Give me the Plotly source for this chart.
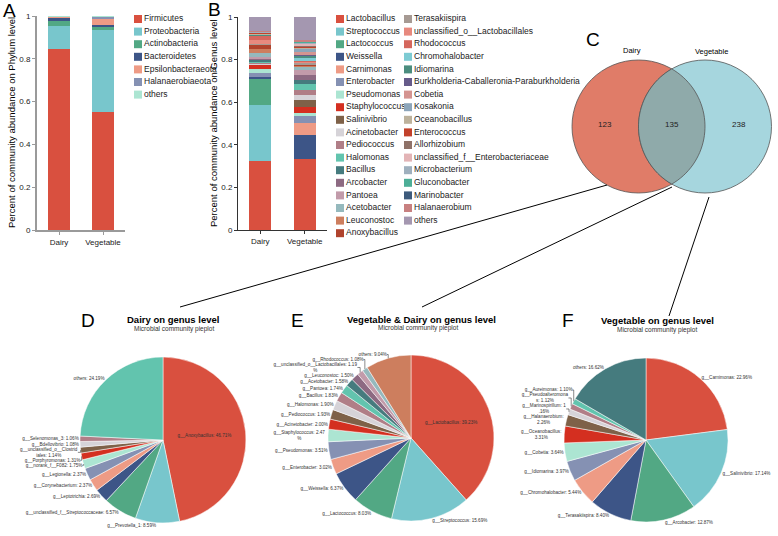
import numpy as np
import plotly.graph_objects as go

W, H = 778, 536
FONT = "Liberation Sans, Arial, sans-serif"

# ---- data -------------------------------------------------------------
samples = ["Dairy", "Vegetable"]

phyla = ["Firmicutes", "Proteobacteria", "Actinobacteria", "Bacteroidetes",
         "Epsilonbacteraeota", "Halanaerobiaeota", "others"]
phylum_dairy = [0.845, 0.109, 0.022, 0.019, 0.003, 0.0, 0.002]
phylum_veg = [0.553, 0.382, 0.015, 0.010, 0.030, 0.007, 0.003]

genera = ["Lactobacillus", "Streptococcus", "Lactococcus", "Weissella", "Carnimonas",
          "Enterobacter", "Pseudomonas", "Staphylococcus", "Salinivibrio", "Acinetobacter",
          "Pediococcus", "Halomonas", "Bacillus", "Arcobacter", "Pantoea", "Acetobacter",
          "Leuconostoc", "Anoxybacillus", "Terasakiispira", "unclassified_o__Lactobacillales",
          "Rhodococcus", "Chromohalobacter", "Idiomarina",
          "Burkholderia-Caballeronia-Paraburkholderia", "Cobetia", "Kosakonia",
          "Oceanobacillus", "Enterococcus", "Allorhizobium",
          "unclassified_f__Enterobacteriaceae", "Microbacterium", "Gluconobacter",
          "Marinobacter", "Halanaerobium", "others"]
genus_dairy = [0.325, 0.261, 0.125, 0.005, 0.0, 0.019, 0.020, 0.020, 0.0, 0.008,
               0.003, 0.003, 0.012, 0.004, 0.006, 0.020, 0.019, 0.023, 0.002, 0.019,
               0.019, 0.002, 0.001, 0.001, 0.002, 0.001, 0.001, 0.005, 0.001, 0.002,
               0.001, 0.001, 0.001, 0.001, 0.069]
genus_veg = [0.332, 0.0, 0.0, 0.114, 0.055, 0.034, 0.013, 0.028, 0.034, 0.023,
             0.023, 0.031, 0.016, 0.027, 0.023, 0.015, 0.005, 0.003, 0.010, 0.003,
             0.003, 0.016, 0.010, 0.005, 0.015, 0.012, 0.008, 0.003, 0.005, 0.008,
             0.004, 0.006, 0.003, 0.003, 0.110]

palette = ["#D9503F", "#78C6CC", "#52A884", "#3D5587", "#EE9B85", "#8591B3",
           "#ACE5D2", "#D42F20", "#7E6148", "#D6D3D8", "#B07E87", "#62C4AE",
           "#457B7E", "#8D6A82", "#C29BAA", "#95B9BD", "#CD7E5E", "#B0432D",
           "#A69A93", "#E7897E", "#D5675D", "#7DCBD3", "#4B8D7E", "#665B8A",
           "#D49490", "#8CA5BA", "#BDB29C", "#C2412B", "#8F7268", "#E3B4B6",
           "#9FB0BE", "#4DAE97", "#3D5A7C", "#C88080", "#A497B0"]

y_tickvals = [0, 0.2, 0.4, 0.6, 0.8, 1]
y_ticktext = ["0", "0.2", "0.4", "0.6", "0.8", "1"]

venn_names = ["Dairy", "Vegetable"]
venn_counts = [123, 135, 238]  # Dairy only, shared, Vegetable only

dairy_pie_labels = ["g__Anoxybacillus", "g__Prevotella_1", "g__unclassified_f__Streptococcaceae",
                    "g__Leptotrichia", "g__Corynebacterium", "g__Legionella", "g__norank_f__F082",
                    "g__Porphyromonas", "g__unclassified_o__Clostridiales", "g__Bdellovibrio",
                    "g__Selenomonas_3", "others"]
dairy_pie_values = [46.71, 8.59, 6.57, 2.69, 2.37, 2.37, 1.75, 1.31, 1.14, 1.08, 1.06, 24.19]

both_pie_labels = ["g__Lactobacillus", "g__Streptococcus", "g__Lactococcus", "g__Weissella",
                   "g__Enterobacter", "g__Pseudomonas", "g__Staphylococcus", "g__Acinetobacter",
                   "g__Pediococcus", "g__Halomonas", "g__Bacillus", "g__Pantoea", "g__Acetobacter",
                   "g__Leuconostoc", "g__unclassified_o__Lactobacillales", "g__Rhodococcus", "others"]
both_pie_values = [39.23, 15.69, 8.03, 6.37, 3.02, 3.51, 2.47, 2.00, 1.93, 1.90, 1.83, 1.74,
                   1.58, 1.50, 1.19, 1.08, 9.04]

veg_pie_labels = ["g__Carnimonas", "g__Salinivibrio", "g__Arcobacter", "g__Terasakiispira",
                  "g__Chromohalobacter", "g__Idiomarina", "g__Cobetia", "g__Oceanobacillus",
                  "g__Halanaerobium", "g__Marinospirillum", "g__Pseudoalteromonas",
                  "g__Aureimonas", "others"]
veg_pie_values = [22.96, 17.14, 12.87, 8.40, 5.44, 3.97, 3.64, 3.31, 2.26, 1.16, 1.12, 1.10, 16.62]

# where the original figure wraps long slice labels (character index)
label_wraps = {
    "g__unclassified_o__Clostridiales": 27,
    "g__unclassified_o__Lactobacillales": 40,
    "g__Staphylococcus": 23,
    "g__Pseudoalteromonas": 19,
    "g__Marinospirillum": 21,
    "g__Halanaerobium": 17,
    "g__Oceanobacillus": 18,
}

# ---- figure -------------------------------------------------------------
fig = go.Figure()


def px_x(a, b):
    return [a / W, b / W]


def px_y(top, bottom):
    return [1 - bottom / H, 1 - top / H]


# A: phylum stacked bars
for i, name in enumerate(phyla):
    fig.add_trace(go.Bar(x=samples, y=[phylum_dairy[i], phylum_veg[i]], name=name,
                         marker=dict(color=palette[i], line=dict(width=0)),
                         xaxis="x", yaxis="y", showlegend=False, hoverinfo="skip"))

# B: genus stacked bars
for i, name in enumerate(genera):
    fig.add_trace(go.Bar(x=samples, y=[genus_dairy[i], genus_veg[i]], name=name,
                         marker=dict(color=palette[i], line=dict(width=0)),
                         xaxis="x2", yaxis="y2", showlegend=False, hoverinfo="skip"))

# legends drawn on a pixel canvas axis
row0, row_step = 19, 12.6
fig.add_trace(go.Scatter(
    x=[138] * len(phyla), y=row0 + row_step * np.arange(len(phyla)),
    mode="markers+text", text=phyla, textposition="middle right",
    marker=dict(symbol="square", size=8, color=palette[:len(phyla)]),
    textfont=dict(size=8.5, color="#222", family=FONT),
    xaxis="x3", yaxis="y3", showlegend=False, hoverinfo="skip"))

n_col1 = 18
for start, stop, xm in [(0, n_col1, 340), (n_col1, len(genera), 408)]:
    names = genera[start:stop]
    fig.add_trace(go.Scatter(
        x=[xm] * len(names), y=row0 + row_step * np.arange(len(names)),
        mode="markers+text", text=names, textposition="middle right",
        marker=dict(symbol="square", size=8, color=palette[start:stop]),
        textfont=dict(size=8.5, color="#222", family=FONT),
        xaxis="x3", yaxis="y3", showlegend=False, hoverinfo="skip"))


def slice_text(label, value):
    s = f"{label}: {value:.2f}%"
    k = label_wraps.get(label)
    if k is not None and k < len(s):
        s = s[:k] + "<br>" + s[k:].lstrip()
    return s


# pies
pie_specs = [
    (dairy_pie_labels, dairy_pie_values, (163, 440), 83, True),
    (both_pie_labels, both_pie_values, (411, 438), 83, True),
    (veg_pie_labels, veg_pie_values, (646, 440), 82, False),
]
for labels, values, (cx, cy), r, first_inside in pie_specs:
    n = len(labels)
    texts = [slice_text(l, v) for l, v in zip(labels, values)]
    positions = ["outside"] * n
    if first_inside:
        positions[0] = "inside"
    fig.add_trace(go.Pie(
        labels=labels, values=values, text=texts, textinfo="text",
        textposition=positions, insidetextorientation="horizontal",
        sort=False, direction="clockwise", rotation=0, automargin=False,
        marker=dict(colors=palette[:n], line=dict(color="white", width=0.5)),
        textfont=dict(size=4.6, color="#333", family=FONT),
        domain=dict(x=px_x(cx - r, cx + r), y=px_y(cy - r, cy + r)),
        showlegend=False, hoverinfo="skip"))

# ---- venn + connectors ---------------------------------------------------
r_v = 66.5
c_dairy = (638.5, 126.5)
c_veg = (705.0, 126.5)
shapes = [
    dict(type="circle", xref="x3", yref="y3", x0=c_dairy[0] - r_v, x1=c_dairy[0] + r_v,
         y0=c_dairy[1] - r_v, y1=c_dairy[1] + r_v, fillcolor="#E07C68",
         line=dict(color="#555", width=0.8), layer="below"),
    dict(type="circle", xref="x3", yref="y3", x0=c_veg[0] - r_v, x1=c_veg[0] + r_v,
         y0=c_veg[1] - r_v, y1=c_veg[1] + r_v, fillcolor="#A6D6DE",
         line=dict(color="#555", width=0.8), layer="below"),
]
# lens of the overlap
d = c_veg[0] - c_dairy[0]
half = np.arccos(d / 2 / r_v)
t1 = np.linspace(-half, half, 40)
arc1 = [(c_dairy[0] + r_v * np.cos(t), c_dairy[1] + r_v * np.sin(t)) for t in t1]
t2 = np.linspace(np.pi - half, np.pi + half, 40)
arc2 = [(c_veg[0] + r_v * np.cos(t), c_veg[1] + r_v * np.sin(t)) for t in t2]
pts = arc1 + arc2
path = "M " + " L ".join(f"{x:.2f},{y:.2f}" for x, y in pts) + " Z"
shapes.append(dict(type="path", xref="x3", yref="y3", path=path, fillcolor="#8FAAAA",
                   line=dict(color="#555", width=0.8), layer="below"))

for x0, y0, x1, y1 in [(607, 185, 180, 307), (672, 187, 422, 307), (709, 197, 669, 316)]:
    shapes.append(dict(type="line", xref="x3", yref="y3", x0=x0, y0=y0, x1=x1, y1=y1,
                       line=dict(color="black", width=1)))

annotations = []


def txt(x, y, s, size, bold=False, color="black"):
    annotations.append(dict(x=x, y=y, xref="x3", yref="y3", text=f"<b>{s}</b>" if bold else s,
                            showarrow=False, xanchor="center", yanchor="middle",
                            font=dict(size=size, color=color, family=FONT)))


for letter, (lx, ly) in zip("ABCDEF", [(9, 10), (214, 9), (593, 39), (88, 320), (297, 320), (568, 320)]):
    txt(lx, ly, letter, 19)

txt(632, 50, venn_names[0], 7.5)
txt(711, 51, venn_names[1], 7.5)
for (vx, vy), cnt in zip([(605, 124), (672, 124), (739, 124)], venn_counts):
    txt(vx, vy, str(cnt), 8, color="#222")

txt(173, 319.5, "Dairy on genus level", 9.5, bold=True)
txt(174, 329, "Microbial community pieplot", 6.5, color="#333")
txt(421.5, 319, "Vegetable & Dairy on genus level", 9.5, bold=True)
txt(418, 328, "Microbial community pieplot", 6.5, color="#333")
txt(657.5, 320.5, "Vegetable on genus level", 9.5, bold=True)
txt(657, 330, "Microbial community pieplot", 6.5, color="#333")

# axis titles
annotations.append(dict(x=11, y=123, xref="x3", yref="y3", textangle=-90, showarrow=False,
                        text="Percent of community abundance on Phylum level",
                        font=dict(size=9.5, color="black", family=FONT)))
annotations.append(dict(x=213, y=123, xref="x3", yref="y3", textangle=-90, showarrow=False,
                        text="Percent of community abundance on Genus level",
                        font=dict(size=9.5, color="black", family=FONT)))

axis_common = dict(showgrid=False, zeroline=False, ticks="outside", ticklen=3,
                   automargin=False, tickfont=dict(size=8, color="#222", family=FONT))

fig.update_layout(
    template="none",
    width=W, height=H, margin=dict(l=0, r=0, t=0, b=0, pad=0),
    paper_bgcolor="white", plot_bgcolor="rgba(0,0,0,0)",
    barmode="stack", bargap=0.5, showlegend=False,
    font=dict(family=FONT, color="#222"),
    xaxis=dict(domain=px_x(37, 125), range=[-0.5, 1.5], showline=True, linecolor="#9a9a9a",
               linewidth=2, tickcolor="#9a9a9a", anchor="y", **axis_common),
    yaxis=dict(domain=px_y(16, 230), range=[0, 1], showline=True, linecolor="#9a9a9a",
               linewidth=2, tickcolor="#9a9a9a", tickvals=y_tickvals, ticktext=y_ticktext,
               anchor="x", **axis_common),
    xaxis2=dict(domain=px_x(238, 327), range=[-0.5, 1.5], showline=True, linecolor="#333",
                linewidth=1, tickcolor="#333", anchor="y2", **axis_common),
    yaxis2=dict(domain=px_y(17, 230), range=[0, 1], showline=True, linecolor="#333",
                linewidth=1, tickcolor="#333", tickvals=y_tickvals, ticktext=y_ticktext,
                anchor="x2", **axis_common),
    xaxis3=dict(domain=[0, 1], range=[0, W], visible=False, anchor="y3", automargin=False),
    yaxis3=dict(domain=[0, 1], range=[H, 0], visible=False, anchor="x3", automargin=False),
    shapes=shapes, annotations=annotations,
)

# the page body has a default 8px margin; drop it so the figure fills the window
fig.write_html("out.html", config={"displayModeBar": False},
               post_script="document.body.style.margin = '0px';")
